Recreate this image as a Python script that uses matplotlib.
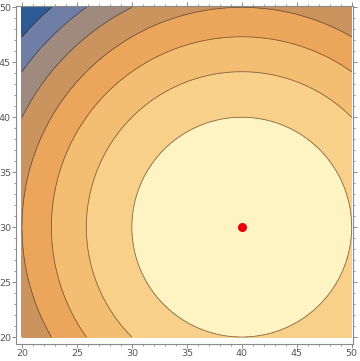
import numpy as np
import matplotlib
matplotlib.use("Agg")
import matplotlib.pyplot as plt
from matplotlib.ticker import MultipleLocator

# Data
center_x, center_y = 40, 30
x_range = [20, 50]
y_range = [20, 50]
levels = [0, 100, 200, 300, 400, 500, 600, 700, 800]
band_colors = ["#FEF3C2", "#F8D08A", "#F3BD72", "#EBA65B",
               "#CB945F", "#A08A7E", "#6F7EA4", "#2D5B95"]
point_x = [40]
point_y = [30]
tick_values = [20, 25, 30, 35, 40, 45, 50]

xs = np.linspace(x_range[0], x_range[1], 601)
ys = np.linspace(y_range[0], y_range[1], 601)
X, Y = np.meshgrid(xs, ys)
Z = (X - center_x) ** 2 + (Y - center_y) ** 2

fig = plt.figure(figsize=(3.6, 3.61), dpi=100)
ax = fig.add_axes([0.0436, 0.0463, 0.9378, 0.9379])

ax.contourf(X, Y, Z, levels=levels, colors=band_colors)
ax.contour(X, Y, Z, levels=levels[1:-1], colors="#3a2a1a", linewidths=0.6, alpha=0.6)
ax.plot(point_x, point_y, "o", color="#E8000B", markersize=6.5, markeredgewidth=0)

ax.set_xlim(19.43, 50.15)
ax.set_ylim(19.34, 50.15)

ax.set_xticks(tick_values)
ax.set_yticks(tick_values)
ax.xaxis.set_minor_locator(MultipleLocator(1))
ax.yaxis.set_minor_locator(MultipleLocator(1))

for spine in ax.spines.values():
    spine.set_color("#8a8a8a")
    spine.set_linewidth(0.8)

ax.tick_params(which="both", direction="out", top=True, right=True,
               colors="#8a8a8a", labelcolor="#555555", labelsize=6.8)
ax.tick_params(which="major", length=2.6, width=0.7, pad=0.8)
ax.tick_params(which="minor", length=1.5, width=0.6)

fig.savefig("out.png", dpi=100)
